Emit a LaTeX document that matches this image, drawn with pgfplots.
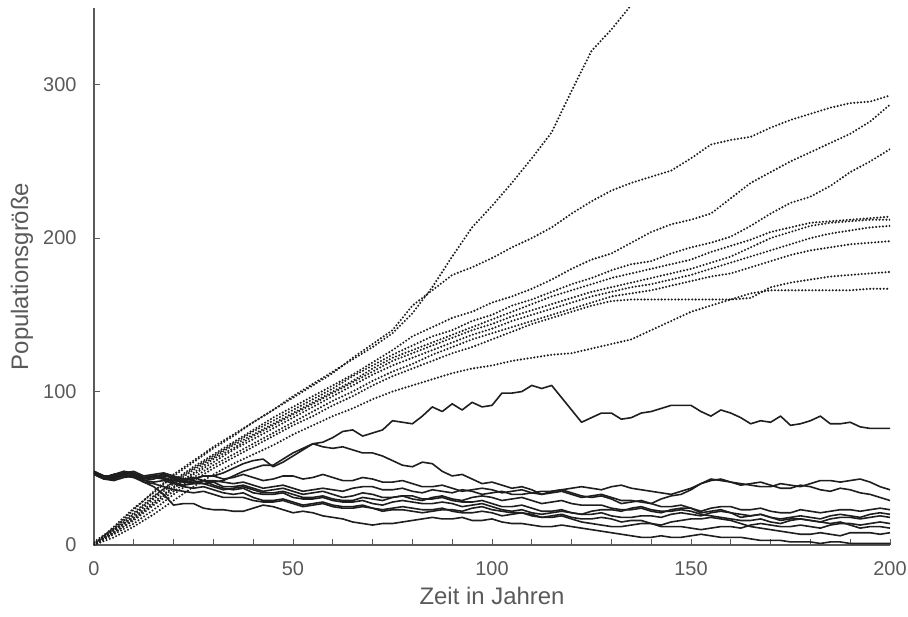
\documentclass[border=0pt]{standalone}
\usepackage{fontspec}
\setmainfont{Liberation Sans}
\usepackage{pgfplots}
\usepackage{pgfplotstable}
\pgfplotsset{compat=1.18}

\definecolor{axgray}{HTML}{5A5A5A}
\definecolor{labgray}{HTML}{595959}
\definecolor{ink}{HTML}{1E1E1E}

% Populations starting at about 47 individuals (solid lines)
\pgfplotstableread{
x     s1  s2 l1 l2 l3 l4 l5 l6 l7 l8
0     47  48 47 47 46 48 47 46 48 47
2.5   44  44 45 44 43 45 44 43 45 44
5     46  46 44 46 43 45 44 42 43 43
7.5   47  48 47 46 46 48 47 44 45 46
10    46  46 48 44 45 47 46 45 44 45
12.5  44  43 45 43 42 44 44 42 41 41
15    45  44 46 45 43 44 45 41 40 38
17.5  43  46 47 44 45 43 46 42 38 33
20    42  44 45 42 44 41 43 40 36 26
22.5  41  42 43 43 41 39 41 38 35 27
25    42  43 43 44 40 40 41 37 34 27
27.5  40  45 45 42 42 40 42 38 35 24
30    41  45 45 42 41 38 39 36 33 23
32.5  42  47 43 41 38 36 37 34 31 23
35    45  50 44 40 38 37 36 33 31 22
37.5  48  53 46 41 39 38 37 34 31 22
40    50  55 44 39 37 36 34 31 29 24
42.5  52  56 42 37 35 34 33 29 28 26
45    52  51 43 38 36 34 33 29 28 25
47.5  56  54 45 39 37 35 34 30 29 23
50    60  58 45 37 35 33 31 28 27 21
52.5  63  62 43 35 33 31 30 26 25 22
55    66  66 44 36 34 31 30 27 26 21
57.5  67  64 46 37 35 32 31 28 27 19
60    70  63 44 36 33 30 29 26 25 18
62.5  74  64 42 35 31 29 28 25 24 17
65    75  62 42 37 32 29 28 25 24 15
67.5  71  60 44 38 34 31 29 26 25 14
70    73  60 43 38 33 30 27 24 24 13
72.5  75  58 41 36 31 29 26 23 22 14
75    81  55 41 36 31 31 28 24 23 14
77.5  80  52 42 37 32 32 29 25 23 15
80    79  51 40 35 30 32 28 24 22 16
82.5  84  54 38 34 29 30 27 23 21 17
85    90  53 38 36 31 30 27 23 22 18
87.5  87  48 39 35 32 31 28 24 23 17
90    92  45 37 34 30 29 27 22 23 17
92.5  88  46 35 36 29 28 25 21 22 18
95    93  43 36 35 31 28 26 21 24 16
97.5  90  40 37 33 32 29 27 22 25 16
100   91  41 36 34 31 27 25 21 23 17
102.5 99  39 34 35 29 25 23 19 22 15
105   99  37 35 33 30 25 22 20 21 14
107.5 100 38 36 33 31 26 23 21 21 14
110   104 36 34 34 29 24 21 19 20 13
112.5 102 33 33 35 27 22 20 18 18 12
115   104 35 34 35 28 22 21 18 19 12
117.5 96  36 35 36 29 23 22 19 20 13
120   88  34 33 37 27 21 21 17 18 12
122.5 80  32 31 38 26 20 20 15 17 11
125   83  31 32 37 26 20 22 14 17 10
127.5 86  32 33 36 26 21 23 13 18 9
130   86  30 31 38 24 19 23 12 17 8
132.5 82  27 29 39 23 18 22 12 15 7
135   83  28 29 37 23 18 24 13 16 6
137.5 86  29 28 36 24 19 25 14 16 5
140   87  27 27 35 22 19 23 14 14 5
142.5 89  25 30 34 21 18 22 13 12 6
145   91  25 32 33 23 20 22 15 12 5
147.5 91  26 33 35 24 21 23 16 12 5
150   91  24 36 37 24 20 22 17 11 6
152.5 87  21 40 40 22 19 20 17 10 7
155   84  22 43 42 24 21 19 18 11 6
157.5 88  23 42 43 25 22 18 17 12 5
160   86  21 41 41 25 21 17 16 12 5
162.5 83  18 40 39 23 20 16 14 11 5
165   79  19 39 40 23 19 16 12 13 4
167.5 81  20 38 41 24 20 17 11 14 3
170   80  18 38 39 22 18 15 10 13 3
172.5 84  16 40 37 21 17 14 9  12 3
175   78  17 39 37 21 18 16 8  12 2
177.5 79  17 38 39 23 19 17 7  13 2
180   81  16 40 38 22 18 16 7  12 2
182.5 84  15 42 36 21 17 15 8  11 1
185   79  14 42 35 22 19 17 7  13 2
187.5 79  15 41 37 23 20 18 6  14 2
190   80  13 42 36 23 19 18 8  14 1
192.5 77  11 43 34 22 18 17 8  13 1
195   76  12 41 33 23 20 18 8  14 1
197.5 76  12 38 31 24 21 19 7  15 1
200   76  11 36 29 23 20 18 8  14 1
}\solidtab

% Populations starting near zero (dotted lines)
\pgfplotstableread{
x   d1  d2  d3  d4  d5  d6  d7  d8  d9  d10
0   0   1   0   2   0   1   0   1   0   0
5   12  11  10  11  9   10  8   8   7   5
10  24  23  20  21  19  18  17  16  14  12
15  34  35  31  32  30  28  27  26  23  20
20  45  46  42  41  40  38  37  35  33  29
25  54  55  51  50  49  47  46  44  42  38
30  63  64  59  58  57  56  54  52  50  46
35  71  72  67  66  65  63  62  59  57  53
40  80  80  75  74  72  71  69  66  64  59
45  88  88  83  81  79  78  76  73  71  65
50  97  96  90  88  86  85  83  80  78  72
55  105 104 97  95  93  92  90  87  84  78
60  113 112 104 102 100 99  97  94  91  84
65  121 122 111 110 107 106 104 100 97  89
70  129 131 119 117 115 113 111 107 104 95
75  138 140 127 124 122 120 117 113 110 100
80  151 156 136 130 127 125 122 118 115 104
85  168 166 142 136 132 130 127 124 120 108
90  188 176 148 140 137 135 132 129 125 112
95  207 181 152 146 142 140 137 134 129 115
100 221 187 158 150 147 144 141 138 134 117
105 236 194 162 156 152 149 146 142 139 120
110 252 200 167 160 157 153 150 146 144 122
115 269 207 173 165 162 157 154 150 148 124
120 296 216 180 170 166 161 158 154 152 125
125 322 224 186 174 170 165 162 158 156 128
130 336 231 190 179 174 168 165 162 159 131
135 352 236 197 183 177 171 168 164 160 134
140 nan 240 204 185 180 174 170 166 160 140
145 nan 244 209 190 183 177 173 169 160 146
150 nan 252 212 194 186 180 176 172 160 152
155 nan 261 216 197 191 184 180 175 160 156
160 nan 264 226 201 195 188 184 177 160 160
165 nan 266 236 208 199 194 188 181 161 164
170 nan 272 243 216 204 200 192 185 168 166
175 nan 277 250 223 207 204 196 189 171 166
180 nan 281 256 227 210 208 200 192 173 166
185 nan 285 262 234 211 210 203 194 175 166
190 nan 288 268 243 212 211 205 196 176 166
195 nan 289 276 250 213 212 207 197 177 167
200 nan 293 287 258 214 212 208 198 178 167
}\dottab

\begin{document}
\begin{tikzpicture}
\begin{axis}[
  scale only axis,
  width=796bp, height=537bp,
  xmin=0, xmax=200, ymin=0, ymax=350,
  axis lines=left,
  axis line style={-, draw=axgray, line width=1.3bp},
  xtick={0,50,...,200},
  minor xtick={10,20,...,190},
  ytick={0,100,200,300},
  tick align=inside,
  major tick length=6bp, minor tick length=6bp,
  tick style={draw=axgray, line width=1bp},
  /pgf/number format/assume math mode=true,
  ticklabel style={font=\fontsize{20}{24}\selectfont, text=labgray},
  xticklabel style={yshift=-13bp},
  yticklabel style={xshift=-14bp},
  xlabel={Zeit in Jahren},
  ylabel={Populationsgröße},
  label style={font=\fontsize{24}{28}\selectfont, text=labgray},
  xlabel style={at={(axis description cs:0.5,0)}, anchor=north, yshift=-39bp},
  ylabel style={at={(axis description cs:-0.0905,0.5)}, anchor=center},
  unbounded coords=discard,
]
\pgfplotsinvokeforeach{d1,d2,d3,d4,d5,d6,d7,d8,d9,d10}{
  \addplot[draw=ink, line width=2.3bp, line cap=round, dash pattern=on 0bp off 3.4bp]
    table[x=x, y=#1]{\dottab};
}
\pgfplotsinvokeforeach{s1,s2,l1,l2,l3,l4,l5,l6,l7,l8}{
  \addplot[draw=ink, line width=1.6bp, line join=round]
    table[x=x, y=#1]{\solidtab};
}
\end{axis}
\pgfresetboundingbox
\path[use as bounding box]
  ([shift={(-94bp,-72bp)}]current axis.south west)
  rectangle ([shift={(18bp,8bp)}]current axis.north east);
\end{tikzpicture}
\end{document}
